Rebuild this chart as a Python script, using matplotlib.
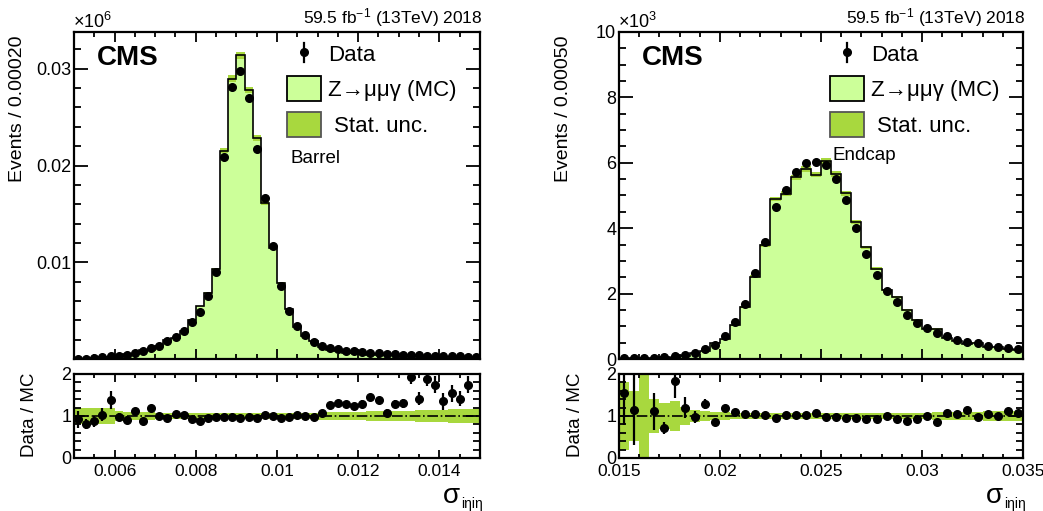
import numpy as np
import matplotlib.pyplot as plt
from matplotlib.patches import Rectangle
from matplotlib.lines import Line2D

plt.rcParams['font.family'] = ['Liberation Sans', 'DejaVu Sans']
plt.rcParams['mathtext.fontset'] = 'custom'
plt.rcParams['mathtext.rm'] = 'Liberation Sans'
plt.rcParams['mathtext.it'] = 'Liberation Sans'

# barrel: 50 bins of 0.0002 from 0.005 to 0.015 (values in units of 1e6 events)
barrel_data = [0.00003, 0.00003, 0.0001, 0.00017, 0.00028, 0.00034, 0.00045, 0.00062, 0.00079, 0.0011,
               0.00138, 0.00182, 0.00227, 0.00293, 0.00379, 0.00485, 0.0065, 0.00898, 0.02086, 0.02809,
               0.02981, 0.02695, 0.02169, 0.01659, 0.01164, 0.0075, 0.00499, 0.00344, 0.00244, 0.00176,
               0.00138, 0.00117, 0.00103, 0.00083, 0.00079, 0.00072, 0.00065, 0.00062, 0.00055, 0.00052,
               0.00045, 0.00041, 0.00038, 0.00034, 0.00031, 0.00031, 0.00028, 0.00028, 0.00024, 0.00024]
barrel_ratio = [0.92, 0.81, 0.87, 1.03, 1.38, 0.97, 0.91, 1.11, 0.88, 1.20,
                1.00, 0.95, 1.05, 1.03, 0.93, 0.89, 0.95, 0.97, 0.97, 0.97,
                0.95, 0.97, 0.95, 1.03, 1.01, 0.95, 0.97, 1.03, 1.01, 0.97,
                1.07, 1.26, 1.32, 1.28, 1.23, 1.29, 1.45, 1.37, 1.08, 1.28,
                1.30, 1.92, 1.41, 1.88, 1.75, 1.35, 1.54, 1.41, 1.75, 2.30]
barrel_ratio_err = [0.20, 0.13, 0.12, 0.15, 0.22, 0.10, 0.08, 0.08, 0.07, 0.07,
                    0.05, 0.05, 0.04, 0.04, 0.03, 0.03, 0.02, 0.02, 0.02, 0.02,
                    0.02, 0.02, 0.02, 0.02, 0.02, 0.02, 0.02, 0.02, 0.03, 0.03,
                    0.04, 0.05, 0.06, 0.07, 0.07, 0.08, 0.08, 0.09, 0.09, 0.10,
                    0.10, 0.15, 0.15, 0.17, 0.20, 0.20, 0.20, 0.18, 0.20, 0.25]
barrel_band = [0.20, 0.20, 0.20, 0.20, 0.20, 0.11, 0.10, 0.10, 0.09, 0.09,
               0.08, 0.08, 0.07, 0.07, 0.07, 0.06, 0.06, 0.06, 0.06, 0.06,
               0.06, 0.06, 0.06, 0.06, 0.06, 0.06, 0.06, 0.07, 0.07, 0.08,
               0.09, 0.09, 0.10, 0.10, 0.10, 0.10, 0.11, 0.11, 0.11, 0.12,
               0.12, 0.12, 0.15, 0.15, 0.15, 0.15, 0.16, 0.16, 0.16, 0.16]

# endcap: 40 bins of 0.0005 from 0.015 to 0.035 (values in units of 1e3 events)
endcap_data = [0.02, 0.02, 0.03, 0.04, 0.05, 0.08, 0.12, 0.17, 0.31, 0.42,
               0.71, 1.12, 1.67, 2.62, 3.58, 4.65, 5.16, 5.72, 5.98, 6.03,
               5.93, 5.49, 4.86, 4.02, 3.21, 2.57, 2.09, 1.75, 1.34, 1.11,
               0.94, 0.78, 0.70, 0.58, 0.53, 0.48, 0.40, 0.36, 0.33, 0.30]
endcap_ratio = [1.54, 1.15, np.nan, 1.11, 0.71, 1.84, 1.20, 0.98, 1.28, 0.85,
                1.19, 1.09, 1.05, 1.04, 1.03, 0.95, 1.02, 1.03, 1.03, 1.07,
                0.98, 0.97, 0.96, 0.96, 0.94, 0.93, 0.99, 0.92, 0.89, 0.93,
                1.01, 0.85, 1.07, 1.04, 1.15, 0.97, 1.05, 0.99, 1.12, 1.07]
endcap_ratio_err = [0.75, 0.85, 0.0, 0.44, 0.15, 0.40, 0.25, 0.15, 0.12, 0.05,
                    0.06, 0.04, 0.03, 0.03, 0.02, 0.02, 0.02, 0.02, 0.02, 0.02,
                    0.02, 0.02, 0.02, 0.02, 0.02, 0.02, 0.03, 0.03, 0.03, 0.03,
                    0.04, 0.04, 0.04, 0.05, 0.05, 0.05, 0.06, 0.06, 0.07, 0.07]
endcap_band = [0.80, 0.60, 1.50, 0.40, 0.32, 0.35, 0.22, 0.15, 0.12, 0.10,
               0.09, 0.08, 0.07, 0.07, 0.07, 0.07, 0.07, 0.07, 0.07, 0.07,
               0.07, 0.07, 0.07, 0.07, 0.07, 0.07, 0.07, 0.07, 0.08, 0.08,
               0.08, 0.09, 0.09, 0.10, 0.10, 0.10, 0.11, 0.12, 0.12, 0.13]

MC_FILL = '#ccff99'
BAND = '#a8d83e'
MAIN_BAND_SCALE = 0.2   # the rim drawn on top of the main histogram is thinner than the ratio band
W, H = 1043, 511


def fx(x):
    return x / W


def fy(y):
    return 1 - y / H


def style_axis(ax, ymaj, ymin, xmaj, xmin):
    ax.tick_params(which='both', direction='in', top=True, right=True, width=1.3, labelsize=13, pad=2)
    ax.tick_params(axis='y', which='major', length=ymaj)
    ax.tick_params(axis='y', which='minor', length=ymin)
    ax.tick_params(axis='x', which='major', length=xmaj, pad=4, labelsize=12.5)
    ax.tick_params(axis='x', which='minor', length=xmin)
    for s in ax.spines.values():
        s.set_linewidth(1.6)


def draw_panel(fig, x0, x1, edges, data, ratio, rerr, band, ylim, yticks, yminor,
               xticks, xminor, xlabels, region, ylab, expo):
    data = np.array(data)
    ratio = np.array(ratio)
    mc = np.where(np.isfinite(ratio), data / ratio, data)
    band = np.array(band)
    rim = np.clip(band, 0, 0.3) * MAIN_BAND_SCALE
    centers = 0.5 * (edges[1:] + edges[:-1])

    ax = fig.add_axes([fx(x0), fy(359), fx(x1 - x0), (359 - 32) / H])
    ax.stairs(mc, edges, fill=True, color=MC_FILL, zorder=1)
    ax.stairs(mc * (1 + rim), edges, baseline=mc * (1 - rim),
              fill=True, color=BAND, zorder=2)
    ax.stairs(mc, edges, color='black', lw=1.2, zorder=3)
    ax.plot(centers, data, 'o', color='black', ms=5.5, zorder=4)
    ax.set_xlim(edges[0], edges[-1])
    ax.set_ylim(*ylim)
    ax.set_yticks(yticks)
    ax.set_yticks(yminor, minor=True)
    ax.set_xticks(xticks)
    ax.set_xticks(xminor, minor=True)
    ax.set_xticklabels([])
    style_axis(ax, 10, 5, 7, 3.5)

    rx = fig.add_axes([fx(x0), fy(458), fx(x1 - x0), (458 - 374) / H])
    rx.stairs(1 + band, edges, baseline=1 - band, fill=True, color=BAND, zorder=1)
    rx.axhline(1, color='black', lw=1.2, ls='-.', zorder=2)
    rx.errorbar(centers, ratio, yerr=rerr, fmt='o', color='black', ms=5.5,
                elinewidth=1.6, capsize=0, zorder=3)
    rx.set_xlim(edges[0], edges[-1])
    rx.set_ylim(0, 2)
    rx.set_yticks([0, 1, 2])
    rx.set_yticks(np.arange(0, 2.01, 0.2), minor=True)
    rx.set_xticks(xticks)
    rx.set_xticklabels(xlabels)
    rx.set_xticks(xminor, minor=True)
    style_axis(rx, 10, 5, 6, 3)

    # header texts
    fig.text(fx(x1 + 3), fy(23), '59.5 fb$^{-1}$ (13TeV) 2018', ha='right', va='baseline', fontsize=12.5)
    fig.text(fx(x0 - 1), fy(28), expo, ha='left', va='baseline', fontsize=13)
    fig.text(fx(x0 + 23), fy(65), 'CMS', ha='left', va='baseline', fontsize=20, fontweight='bold')

    # legend
    lx = x1 - 193
    fig.add_artist(Line2D([fx(lx + 17)] * 2, [fy(43), fy(62)], color='black', lw=1.6))
    fig.add_artist(Line2D([fx(lx + 17)], [fy(52)], marker='o', color='black', ms=5.5))
    fig.text(fx(lx + 41), fy(61), 'Data', ha='left', va='baseline', fontsize=16)
    fig.add_artist(Rectangle((fx(lx), fy(101)), fx(34), 25 / H, facecolor=MC_FILL,
                             edgecolor='black', lw=1.3))
    fig.text(fx(lx + 41), fy(96), 'Z→μμγ (MC)', ha='left', va='baseline', fontsize=16)
    fig.add_artist(Rectangle((fx(lx), fy(137)), fx(34), 25 / H, facecolor=BAND,
                             edgecolor='#555555', lw=1.3))
    fig.text(fx(lx + 47), fy(132), 'Stat. unc.', ha='left', va='baseline', fontsize=16)
    fig.text(fx(lx + 3), fy(region[1]), region[0], ha='left', va='baseline', fontsize=13.5)

    # axis titles
    fig.text(fx(x0 - 56), fy(36), ylab, rotation=90, ha='center', va='top', fontsize=14)
    fig.text(fx(x0 - 44), fy(373), 'Data / MC', rotation=90, ha='center', va='top', fontsize=13.5)
    fig.text(fx(x1 - 37), fy(503), 'σ', ha='left', va='baseline', fontsize=20)
    fig.text(fx(x1 - 19), fy(508), 'iηiη', ha='left', va='baseline', fontsize=10)
    return ax, rx


fig = plt.figure(figsize=(W / 100, H / 100), dpi=100)

edges_b = np.linspace(0.005, 0.015, 51)
draw_panel(fig, 74, 480, edges_b, barrel_data, barrel_ratio, barrel_ratio_err, barrel_band,
           (0, 0.0338), [0.01, 0.02, 0.03], np.arange(0.002, 0.0338, 0.002),
           [0.006, 0.008, 0.010, 0.012, 0.014], np.arange(0.005, 0.01501, 0.0005),
           ['0.006', '0.008', '0.01', '0.012', '0.014'],
           ('Barrel', 163), 'Events / 0.00020', '×10$^{6}$')

edges_e = np.linspace(0.015, 0.035, 41)
draw_panel(fig, 619, 1023, edges_e, endcap_data, endcap_ratio, endcap_ratio_err, endcap_band,
           (0, 10), [0, 2, 4, 6, 8, 10], np.arange(0, 10.01, 0.5),
           [0.015, 0.02, 0.025, 0.03, 0.035], np.arange(0.015, 0.03501, 0.001),
           ['0.015', '0.02', '0.025', '0.03', '0.035'],
           ('Endcap', 160), 'Events / 0.00050', '×10$^{3}$')

fig.savefig('out.png', dpi=100)
